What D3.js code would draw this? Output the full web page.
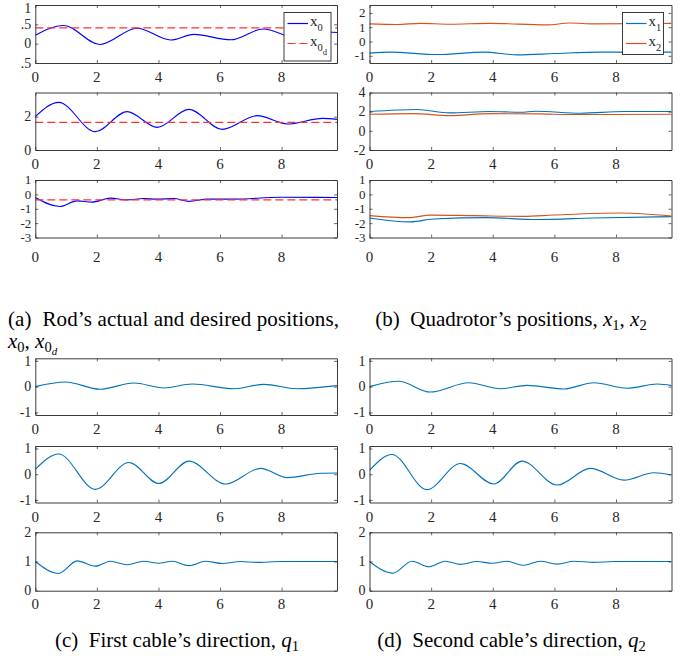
<!DOCTYPE html>
<html>
<head>
<meta charset="utf-8">
<script src="https://d3js.org/d3.v7.min.js"></script>
<style>
  body { margin: 0; background: #fff; }
  svg { display: block; font-family: "Liberation Serif", "Times New Roman", serif; }
</style>
</head>
<body>
<div id="chart"></div>
<script>
const width = 686;
const height = 656;

const tDomain = [0, 9.8];
const xTicks = [0, 2, 4, 6, 8];

// (a) rod position, each row is one coordinate: [t, value]
const a1Actual = [[0, 0.22], [0.92, 0.47], [2.1, -0.02], [3.3, 0.40], [4.4, 0.095], [5.15, 0.24], [6.35, 0.10], [7.4, 0.38], [8.5, 0.15], [9.5, 0.3], [9.8, 0.29]];
const a1Desired = [[0, 0.41], [9.8, 0.41]];
const a2Actual = [[0, 2.0], [0.76, 2.86], [1.95, 1.10], [2.98, 2.30], [3.96, 1.36], [4.99, 2.44], [6.07, 1.24], [7.21, 2.06], [8.19, 1.56], [9.33, 1.90], [9.8, 1.84]];
const a2Desired = [[0, 1.66], [9.8, 1.66]];
const a3Actual = [[0, -0.22], [0.79, -0.84], [1.36, -0.45], [1.84, -0.54], [2.44, -0.26], [2.98, -0.38], [3.52, -0.29], [3.96, -0.33], [4.5, -0.29], [4.99, -0.49], [5.6, -0.33], [6.45, -0.33], [7.97, -0.2], [9.8, -0.22]];
const a3Desired = [[0, -0.38], [9.8, -0.38]];

// (b) quadrotor positions
const b1Q1 = [[0, -0.81], [0.67, -0.74], [2.2, -0.91], [3.7, -0.74], [4.8, -0.93], [6.0, -0.84], [7.5, -0.74], [9.8, -0.74]];
const b1Q2 = [[0, 1.23], [0.89, 1.19], [1.65, 1.27], [2.6, 1.21], [3.9, 1.27], [5.76, 1.16], [6.5, 1.29], [7.3, 1.23], [9.8, 1.27]];
const b2Q1 = [[0, 2.01], [1.54, 2.22], [2.6, 1.87], [3.9, 2.01], [4.9, 1.94], [5.4, 2.05], [6.85, 1.84], [8.26, 2.01], [9.8, 2.01]];
const b2Q2 = [[0, 1.73], [1.43, 1.80], [2.6, 1.59], [3.9, 1.80], [5.5, 1.77], [6.6, 1.70], [9.8, 1.73]];
const b3Q1 = [[0, -1.64], [1.32, -1.91], [2.08, -1.71], [3.8, -1.62], [5.44, -1.75], [7.28, -1.64], [9.8, -1.55]];
const b3Q2 = [[0, -1.48], [1.27, -1.62], [1.97, -1.44], [3.38, -1.48], [5.0, -1.53], [5.98, -1.44], [8.15, -1.30], [9.8, -1.51]];

// (c) first cable direction
const cRow1 = [[0, 0], [0.98, 0.18], [2.1, -0.10], [3.2, 0.14], [4.18, -0.05], [5.1, 0.10], [6.45, -0.08], [7.43, 0.09], [8.5, -0.08], [9.8, 0.04]];
const cRow2 = [[0, 0.19], [0.76, 0.79], [1.95, -0.59], [3.04, 0.46], [4.01, -0.36], [4.99, 0.51], [6.18, -0.38], [7.32, 0.23], [8.19, -0.13], [9.27, 0.04], [9.8, 0.05]];
const cRow3 = [[0, 1.0], [0.76, 0.59], [1.36, 1.02], [1.95, 0.84], [2.44, 1.01], [2.98, 0.89], [3.52, 1.01], [4.01, 0.94], [4.45, 1.01], [4.99, 0.86], [5.53, 1.01], [6.07, 0.93], [6.67, 1.0], [7.21, 0.97], [7.97, 1.0], [9.8, 1.0]];

// (d) second cable direction
const dRow1 = [[0, 0], [0.94, 0.21], [1.97, -0.21], [3.22, 0.15], [4.25, -0.08], [5.11, 0.05], [6.3, -0.09], [7.28, 0.15], [8.36, -0.06], [9.34, 0.10], [9.8, 0.04]];
const dRow2 = [[0, 0.15], [0.73, 0.77], [1.86, -0.60], [2.95, 0.42], [4.03, -0.38], [4.95, 0.51], [6.09, -0.42], [7.17, 0.23], [8.26, -0.23], [9.23, 0.06], [9.8, -0.03]];
const dRow3 = [[0, 1.0], [0.76, 0.6], [1.38, 1.01], [1.92, 0.82], [2.46, 1.01], [2.95, 0.90], [3.49, 1.0], [3.98, 0.94], [4.46, 1.01], [4.98, 0.87], [5.55, 1.01], [6.09, 0.91], [6.63, 1.01], [7.28, 0.97], [7.93, 1.0], [9.8, 1.0]];

const blue = "#0000ff";
const red = "#ff3030";
const mBlue = "#0072bd";
const mOrange = "#d95319";
const axisColor = "#262626";
const dash = "8,4";

const leftCol = [35.3, 337];
const rightCol = [369.5, 671.5];

const panels = [
  { col: leftCol, top: 5, bottom: 63, y: [-0.5, 1], ticks: [-0.5, 0, 0.5, 1], fmt: (d) => (d === 0.5 || d === -0.5 ? ".5" : d), lab: 19,
    series: [{ data: a1Actual, color: blue }, { data: a1Desired, color: red, dash: dash }],
    legend: { x: 284, y: 12.5, w: 47, h: 48.5, items: [{ color: blue, sub: "0" }, { color: red, dash: dash, sub: "0", subsub: "d" }] } },
  { col: leftCol, top: 92.5, bottom: 150, y: [0, 3.45], ticks: [0, 2], lab: 19,
    series: [{ data: a2Actual, color: blue }, { data: a2Desired, color: red, dash: dash }] },
  { col: leftCol, top: 180, bottom: 237.5, y: [-3, 1], ticks: [-3, -2, -1, 0, 1], lab: 24,
    series: [{ data: a3Actual, color: blue }, { data: a3Desired, color: red, dash: dash }] },
  { col: rightCol, top: 5, bottom: 63, y: [-1.5, 2.55], ticks: [-1, 0, 1, 2], lab: 19,
    series: [{ data: b1Q1, color: mBlue }, { data: b1Q2, color: mOrange }],
    legend: { x: 622.5, y: 12.5, w: 41, h: 42, items: [{ color: mBlue, sub: "1" }, { color: mOrange, sub: "2" }] } },
  { col: rightCol, top: 92.5, bottom: 150, y: [-2, 4], ticks: [-2, 0, 2, 4], lab: 19,
    series: [{ data: b2Q1, color: mBlue }, { data: b2Q2, color: mOrange }] },
  { col: rightCol, top: 180, bottom: 237.5, y: [-3, 1], ticks: [-3, -2, -1, 0, 1], lab: 24,
    series: [{ data: b3Q1, color: mBlue }, { data: b3Q2, color: mOrange }] },
  { col: leftCol, top: 358.3, bottom: 415, y: [-1.1, 1.1], ticks: [-1, 0, 1], lab: 19, series: [{ data: cRow1, color: mBlue }] },
  { col: leftCol, top: 446, bottom: 502.5, y: [-1.1, 1.1], ticks: [-1, 0, 1], lab: 19, series: [{ data: cRow2, color: mBlue }] },
  { col: leftCol, top: 532.3, bottom: 590.7, y: [0, 2], ticks: [0, 1, 2], lab: 18, series: [{ data: cRow3, color: mBlue }] },
  { col: rightCol, top: 358.3, bottom: 415, y: [-1.1, 1.1], ticks: [-1, 0, 1], lab: 19, series: [{ data: dRow1, color: mBlue }] },
  { col: rightCol, top: 446, bottom: 502.5, y: [-1.1, 1.1], ticks: [-1, 0, 1], lab: 19, series: [{ data: dRow2, color: mBlue }] },
  { col: rightCol, top: 532.3, bottom: 590.7, y: [0, 2], ticks: [0, 1, 2], lab: 18, series: [{ data: dRow3, color: mBlue }] },
];

const svg = d3.select("#chart").append("svg").attr("width", width).attr("height", height);

function drawPanel(p, i) {
  const x = d3.scaleLinear().domain(tDomain).range(p.col);
  const y = d3.scaleLinear().domain(p.y).range([p.bottom, p.top]);
  const g = svg.append("g");
  const clipId = "clip" + i;
  g.append("clipPath").attr("id", clipId).append("rect")
    .attr("x", p.col[0]).attr("y", p.top).attr("width", p.col[1] - p.col[0]).attr("height", p.bottom - p.top);

  const line = d3.line().x((d) => x(d[0])).y((d) => y(d[1])).curve(d3.curveMonotoneX);
  g.append("g").attr("clip-path", `url(#${clipId})`)
    .selectAll("path").data(p.series).join("path")
    .attr("d", (s) => line(s.data))
    .attr("fill", "none")
    .attr("stroke", (s) => s.color)
    .attr("stroke-width", (s) => (s.dash ? 1.3 : 1.1))
    .attr("stroke-dasharray", (s) => s.dash || null);

  // axes: ticks inward on all four sides
  const fmt = p.fmt || ((d) => d);
  const bottomAx = d3.axisBottom(x).tickValues(xTicks).tickSizeInner(-3).tickSizeOuter(0).tickFormat("");
  const topAx = d3.axisTop(x).tickValues(xTicks).tickSizeInner(-3).tickSizeOuter(0).tickFormat("");
  const leftAx = d3.axisLeft(y).tickValues(p.ticks).tickSizeInner(-3).tickSizeOuter(0).tickFormat("");
  const rightAx = d3.axisRight(y).tickValues(p.ticks).tickSizeInner(-3).tickSizeOuter(0).tickFormat("");
  [[bottomAx, `translate(0,${p.bottom})`], [topAx, `translate(0,${p.top})`],
   [leftAx, `translate(${p.col[0]},0)`], [rightAx, `translate(${p.col[1]},0)`]].forEach(([ax, tr]) => {
    const a = g.append("g").attr("transform", tr).call(ax);
    a.selectAll("line").attr("stroke", axisColor).attr("stroke-width", 0.7);
    a.select(".domain").attr("stroke", axisColor).attr("stroke-width", 0.9);
  });

  g.append("g").selectAll("text").data(xTicks).join("text")
    .attr("x", (d) => x(d)).attr("y", p.bottom + p.lab)
    .attr("text-anchor", "middle").attr("font-size", 15).attr("fill", axisColor)
    .text((d) => d);

  // y labels: a bit smaller where ticks are packed tightly
  const step = Math.abs(y(p.ticks[1]) - y(p.ticks[0]));
  const yFont = step < 16 ? 13 : 14;
  g.append("g").selectAll("text").data(p.ticks).join("text")
    .attr("x", p.col[0] - 4).attr("y", (d) => Math.max(y(d) + yFont * 0.34, yFont * 0.9))
    .attr("text-anchor", "end").attr("font-size", yFont).attr("fill", axisColor)
    .text((d) => String(fmt(d)));

  if (p.legend) drawLegend(g, p.legend);
}

function drawLegend(g, L) {
  const lg = g.append("g");
  lg.append("rect").attr("x", L.x).attr("y", L.y).attr("width", L.w).attr("height", L.h)
    .attr("fill", "#fff").attr("stroke", axisColor).attr("stroke-width", 0.9);
  L.items.forEach((it, i) => {
    const cy = L.y + 11 + i * 20;
    lg.append("line").attr("x1", L.x + 3.5).attr("x2", L.x + 24).attr("y1", cy).attr("y2", cy)
      .attr("stroke", it.color).attr("stroke-width", 1.2).attr("stroke-dasharray", it.dash || null);
    const t = lg.append("text").attr("x", L.x + 26).attr("y", cy + 2).attr("font-size", 15).attr("fill", axisColor);
    t.append("tspan").text("x");
    t.append("tspan").attr("dy", 5).attr("font-size", 10.5).text(it.sub);
    if (it.subsub) t.append("tspan").attr("dy", 4).attr("font-size", 8.5).text(it.subsub);
  });
}

panels.forEach(drawPanel);

// captions
function caption(xPos, yPos, anchor, parts, fit) {
  const t = svg.append("text").attr("x", xPos).attr("y", yPos).attr("font-size", 21)
    .attr("fill", "#000").attr("text-anchor", anchor);
  if (fit) t.attr("textLength", fit).attr("lengthAdjust", "spacing");
  parts.forEach((p) => {
    const s = t.append("tspan").text(p.t);
    if (p.it) s.attr("font-style", "italic");
    if (p.dy) s.attr("dy", p.dy);
    if (p.fs) s.attr("font-size", p.fs);
  });
}

caption(8, 326, "start", [{ t: "(a)\u00a0\u00a0Rod\u2019s actual and desired positions," }], 331);
caption(8, 348, "start", [{ t: "x", it: true }, { t: "0", fs: 14.5, dy: 3.5 }, { t: ", ", dy: -3.5 }, { t: "x", it: true },
  { t: "0", fs: 14.5, dy: 3.5 }, { t: "d", it: true, fs: 11, dy: 3 }]);
caption(511, 326, "middle", [{ t: "(b)\u00a0\u00a0Quadrotor\u2019s positions, " }, { t: "x", it: true }, { t: "1", fs: 14.5, dy: 3.5 },
  { t: ", ", dy: -3.5 }, { t: "x", it: true }, { t: "2", fs: 14.5, dy: 3.5 }]);
caption(177, 647, "middle", [{ t: "(c)\u00a0\u00a0First cable\u2019s direction, " }, { t: "q", it: true }, { t: "1", fs: 14.5, dy: 3.5 }]);
caption(511.5, 647, "middle", [{ t: "(d)\u00a0\u00a0Second cable\u2019s direction, " }, { t: "q", it: true }, { t: "2", fs: 14.5, dy: 3.5 }]);
</script>
</body>
</html>
